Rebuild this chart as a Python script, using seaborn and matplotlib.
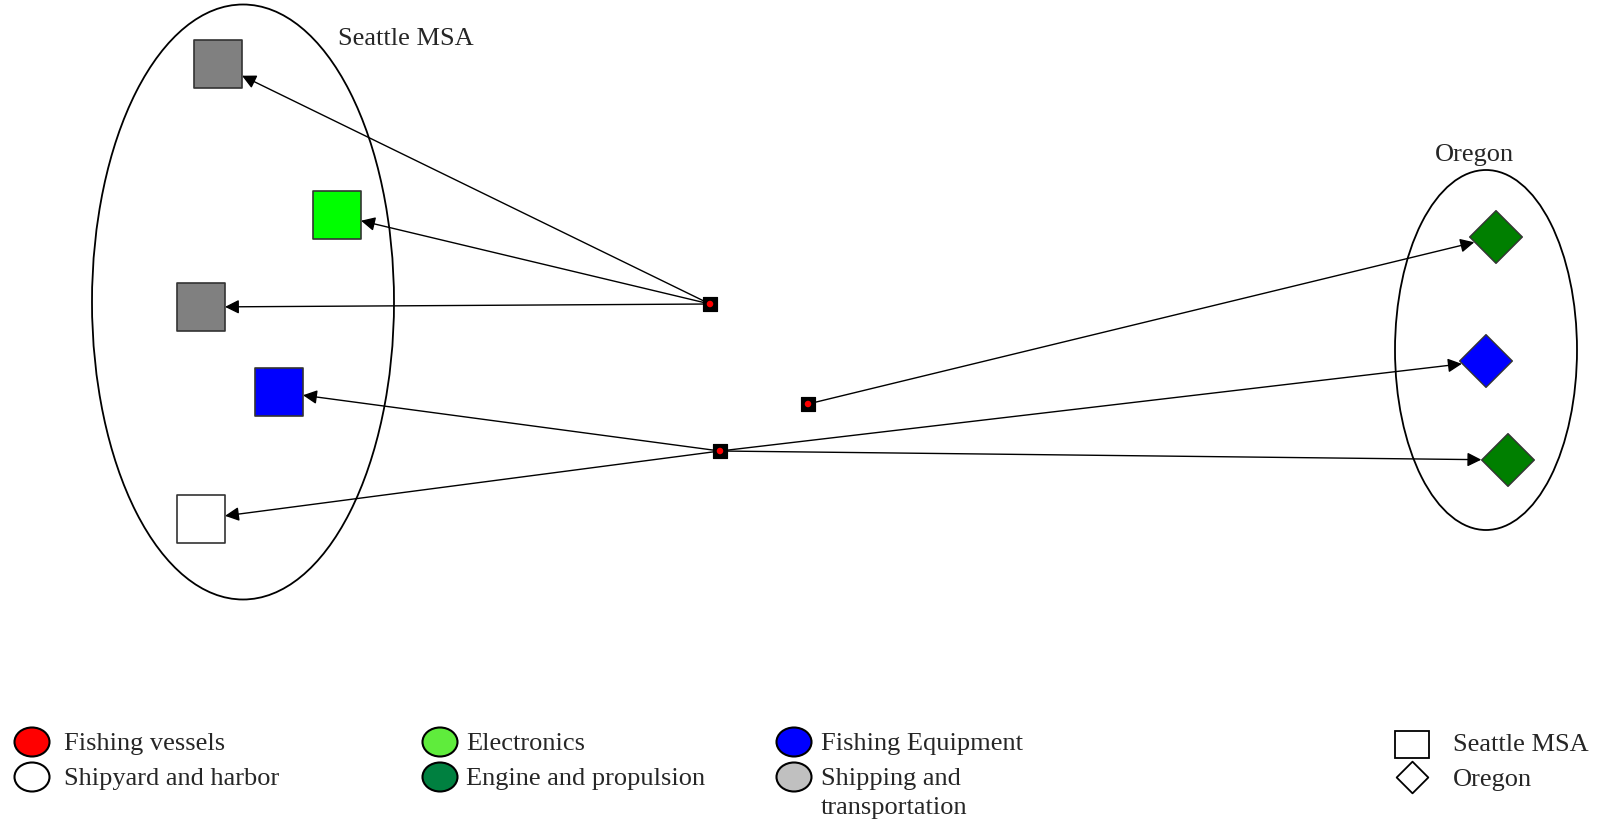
import numpy as np
import pandas as pd
import matplotlib
matplotlib.use("Agg")
import matplotlib.pyplot as plt
from matplotlib.patches import Ellipse, FancyArrowPatch, Rectangle
import seaborn as sns

# node data (pixel coordinates of the original layout)
target_x = [218, 337, 201, 279, 201, 1496, 1486, 1508]
target_y = [64, 215, 307, 392, 519, 237, 361, 460]
target_sector = ["Shipping and transportation", "Electronics", "Shipping and transportation",
                 "Fishing Equipment", "Shipyard and harbor",
                 "Engine and propulsion", "Fishing Equipment", "Engine and propulsion"]
target_region = ["Seattle MSA"] * 5 + ["Oregon"] * 3

source_x = [710, 808, 720]
source_y = [304, 404, 451]

# edges: (source index, target index)
edge_src = [0, 0, 0, 2, 2, 1, 2, 2]
edge_dst = [0, 1, 2, 3, 4, 5, 6, 7]

node_colors = {
    "Shipping and transportation": "#808080",
    "Electronics": "#00ff00",
    "Fishing Equipment": "#0000ff",
    "Shipyard and harbor": "#ffffff",
    "Engine and propulsion": "#007f00",
}

legend_labels = ["Fishing vessels", "Shipyard and harbor", "Electronics",
                 "Engine and propulsion", "Fishing Equipment", "Shipping and\ntransportation"]
legend_colors = ["#ff0000", "#ffffff", "#5fec3c", "#008040", "#0000ff", "#c0c0c0"]

targets = pd.DataFrame({"x": target_x, "y": target_y,
                        "sector": target_sector, "region": target_region})
sources = pd.DataFrame({"x": source_x, "y": source_y})

sns.set_style("white")
plt.rcParams["font.family"] = ["Liberation Serif", "DejaVu Serif"]

fig = plt.figure(figsize=(16, 8.24), dpi=100)
ax = fig.add_axes([0, 0, 1, 1])

# region ellipses
ax.add_patch(Ellipse((243, 302), 302, 595, fill=False, ec="black", lw=1.3))
ax.add_patch(Ellipse((1486, 350), 182, 360, fill=False, ec="black", lw=1.3))
ax.text(406, 39, "Seattle MSA", fontsize=19, ha="center", va="center")
ax.text(1474, 155, "Oregon", fontsize=19, ha="center", va="center")

# edges, clipped at the node outline
sq_half = 24
dia_half = 27
for s, d in zip(edge_src, edge_dst):
    x0, y0 = source_x[s], source_y[s]
    x1, y1 = target_x[d], target_y[d]
    dx, dy = x0 - x1, y0 - y1
    if target_region[d] == "Seattle MSA":
        t = sq_half / max(abs(dx), abs(dy))
    else:
        t = dia_half / (abs(dx) + abs(dy))
    ex, ey = x1 + dx * t, y1 + dy * t
    ax.add_patch(FancyArrowPatch((x0, y0), (ex, ey), arrowstyle="-|>",
                                 mutation_scale=21, shrinkA=0, shrinkB=0,
                                 color="black", lw=1.0, zorder=2))

# target nodes
seattle = targets[targets.region == "Seattle MSA"]
oregon = targets[targets.region == "Oregon"]
sns.scatterplot(data=seattle, x="x", y="y", hue="sector", palette=node_colors,
                marker="s", s=1150, edgecolor="#333333", linewidth=1.2,
                legend=False, ax=ax, zorder=3)
sns.scatterplot(data=oregon, x="x", y="y", hue="sector", palette=node_colors,
                marker="D", s=720, edgecolor="#333333", linewidth=1.0,
                legend=False, ax=ax, zorder=3)

# source nodes: black square with red dot
sns.scatterplot(data=sources, x="x", y="y", marker="s", s=110, color="black",
                edgecolor="black", legend=False, ax=ax, zorder=4)
sns.scatterplot(data=sources, x="x", y="y", marker="o", s=22, color="#ff0000",
                edgecolor="none", legend=False, ax=ax, zorder=5)

ax.set_xlim(0, 1600)
ax.set_ylim(824, 0)
ax.axis("off")

# legend
col_circle_x = [32, 440, 794]
col_text_x = [64, 466, 821]
row_y = [742, 777]
for i, (lab, col) in enumerate(zip(legend_labels, legend_colors)):
    c, r = i // 2, i % 2
    ax.add_patch(Ellipse((col_circle_x[c], row_y[r]), 35, 29, fc=col, ec="black", lw=1.5))
    ax.text(col_text_x[c], row_y[r] - 9, lab, fontsize=19, ha="left", va="top",
            linespacing=1.4)

ax.add_patch(Rectangle((1395, 731), 34, 27, fill=False, ec="black", lw=1.3))
ax.scatter([1412], [777], marker="D", s=260, facecolor="white", edgecolor="black", lw=1.3)
ax.text(1453, 745, "Seattle MSA", fontsize=19, ha="left", va="center")
ax.text(1453, 780, "Oregon", fontsize=19, ha="left", va="center")

fig.savefig("out.png", dpi=100)
